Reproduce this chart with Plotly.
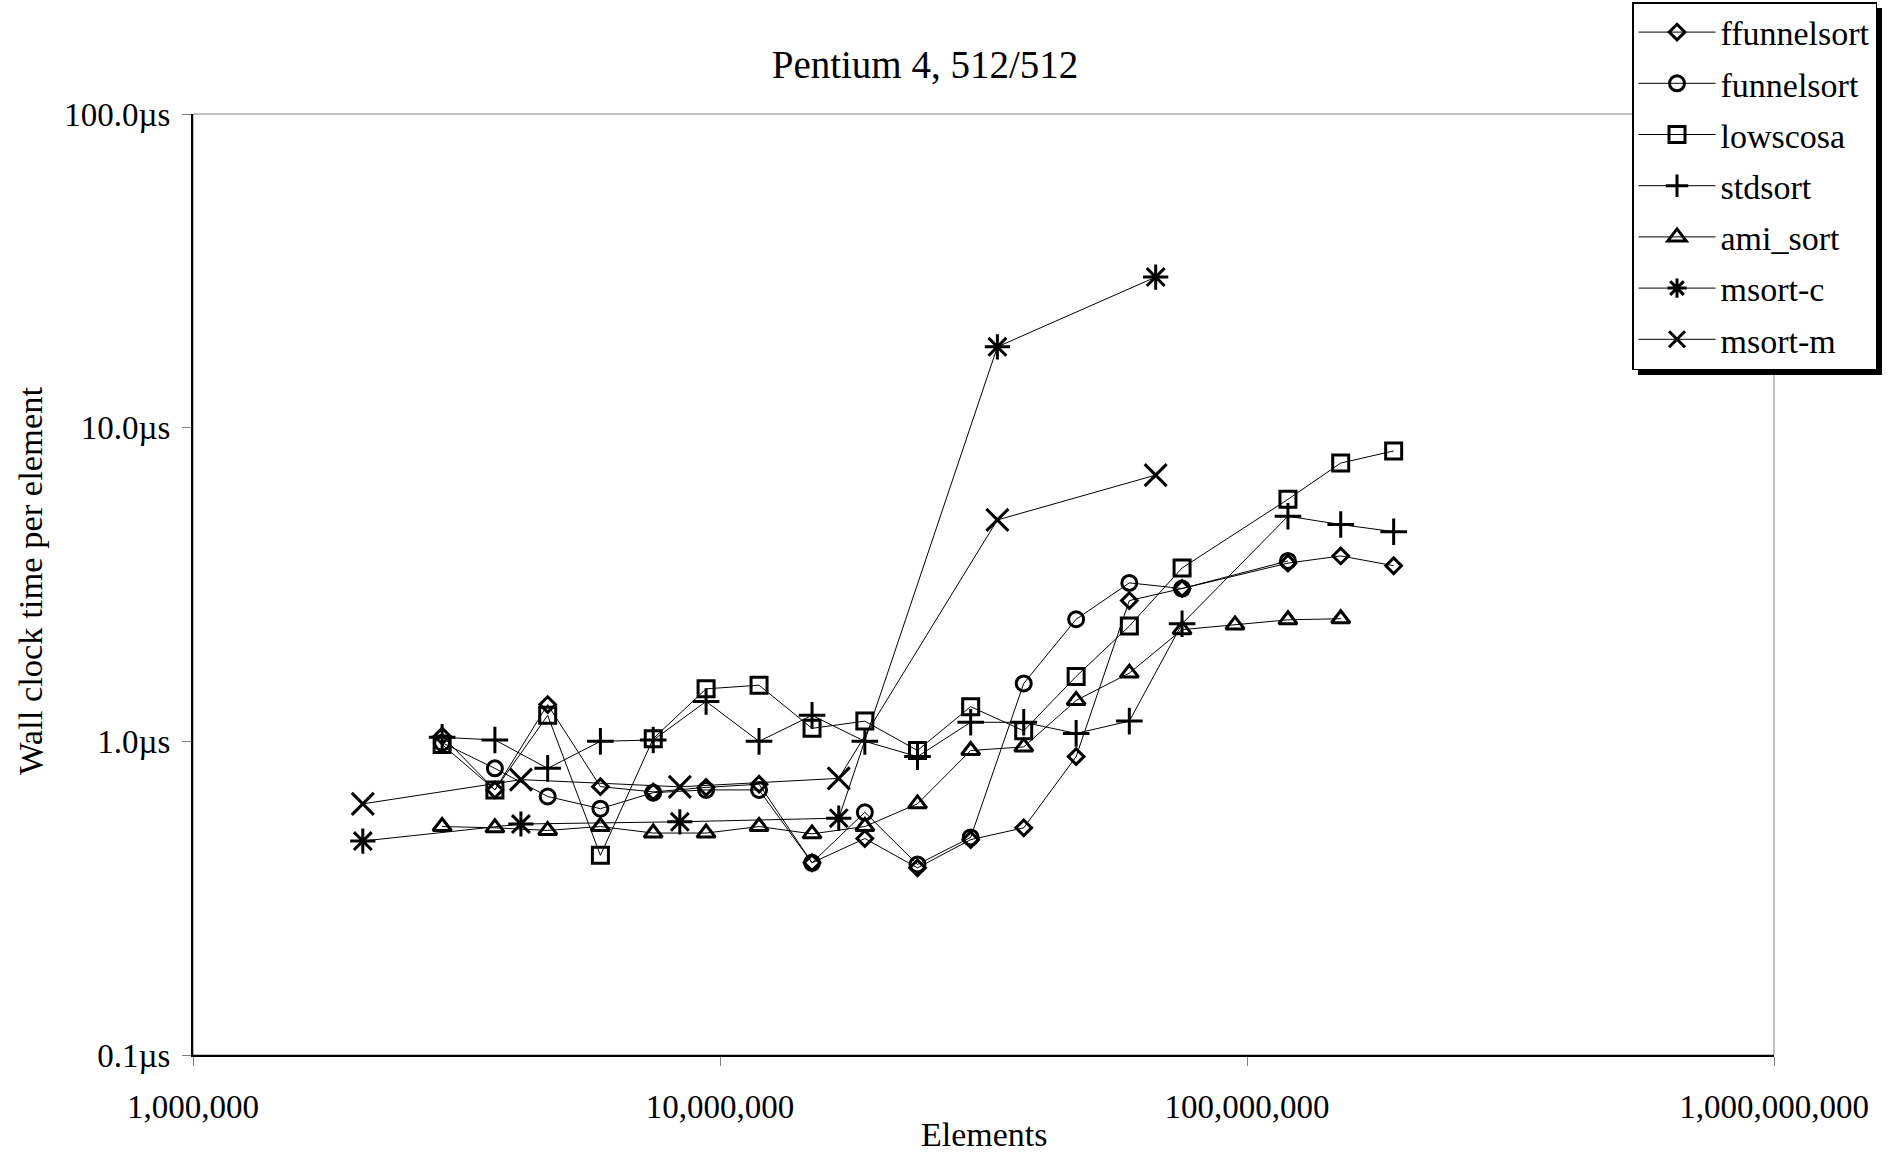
import plotly.graph_objects as go

# x positions (elements)
x_grid = [2.97e6, 3.74e6, 4.71e6, 5.93e6, 7.47e6, 9.41e6, 11.86e6, 14.95e6, 18.83e6,
          23.7e6, 29.9e6, 37.7e6, 47.4e6, 59.8e6, 75.3e6, 94.9e6, 119.6e6, 150.6e6, 189.8e6]
x_pow2 = [2.10e6, 4.19e6, 8.39e6, 16.8e6, 33.6e6, 67.1e6]

# values in microseconds per element
ffunnelsort_x = x_grid[:15] + x_grid[16:]
ffunnelsort_y = [1.04, 0.70, 1.31, 0.717, 0.69, 0.713, 0.73, 0.41, 0.49, 0.395, 0.486, 0.53, 0.894,
                 2.81, 3.07, 3.70, 3.90, 3.63]
funnelsort_x = x_grid[:15] + [x_grid[16]]
funnelsort_y = [0.99, 0.82, 0.667, 0.61, 0.686, 0.70, 0.70, 0.41, 0.594, 0.405, 0.494, 1.53, 2.45,
                3.20, 3.07, 3.76]
lowscosa_x = x_grid[:15] + x_grid[16:]
lowscosa_y = [0.977, 0.70, 1.21, 0.433, 1.02, 1.47, 1.51, 1.10, 1.16, 0.935, 1.29, 1.08, 1.61,
              2.33, 3.57, 5.91, 7.71, 8.43]
stdsort_x = x_grid[:15] + x_grid[16:]
stdsort_y = [1.03, 1.01, 0.82, 1.00, 1.01, 1.34, 1.00, 1.21, 1.00, 0.894, 1.15, 1.15, 1.06,
             1.16, 2.37, 5.22, 4.91, 4.66]
ami_sort_x = x_grid[:18]
ami_sort_y = [0.535, 0.53, 0.52, 0.535, 0.51, 0.51, 0.535, 0.507, 0.535, 0.632, 0.935, 0.96, 1.35,
              1.65, 2.27, 2.35, 2.44, 2.46]
msort_c_x = x_pow2
msort_c_y = [0.481, 0.545, 0.554, 0.569, 18.1, 30.2]
msort_m_x = x_pow2
msort_m_y = [0.632, 0.755, 0.716, 0.762, 5.08, 7.06]

series = [
    ("ffunnelsort", ffunnelsort_x, ffunnelsort_y, "diamond-open", 12),
    ("funnelsort", funnelsort_x, funnelsort_y, "circle-open", 15),
    ("lowscosa", lowscosa_x, lowscosa_y, "square-open", 16),
    ("stdsort", stdsort_x, stdsort_y, "cross-thin-open", 19),
    ("ami_sort", ami_sort_x, ami_sort_y, "triangle-up-open", 16),
    ("msort-c", msort_c_x, msort_c_y, "asterisk-open", 21),
    ("msort-m", msort_m_x, msort_m_y, "x-thin-open", 22),
]

x_tickvals = [1e6, 1e7, 1e8, 1e9]
x_ticktext = ["1,000,000", "10,000,000", "100,000,000", "1,000,000,000"]
y_tickvals = [0.1, 1, 10, 100]
y_ticktext = ["0.1µs", "1.0µs", "10.0µs", "100.0µs"]

FONT = "Liberation Serif, Times New Roman, serif"
W, H = 1895, 1152
L, R, T, B = 193, 121, 114, 97
PW, PH = W - L - R, H - T - B


def px(x):
    return (x - L) / PW


def py(y):
    return (H - B - y) / PH


fig = go.Figure()
for name, xs, ys, sym, sz in series:
    fig.add_trace(go.Scatter(
        x=xs, y=ys, name=name, mode="lines+markers", legendgroup=name,
        line=dict(color="black", width=1),
        marker=dict(symbol=sym, size=sz, color="black",
                    line=dict(color="black", width=3)),
    ))

fig.update_layout(
    width=W, height=H,
    margin=dict(l=L, r=R, t=T, b=B, autoexpand=False),
    paper_bgcolor="white", plot_bgcolor="white",
    font=dict(family=FONT, size=33, color="black"),
    title=dict(text="Pentium 4, 512/512", xref="container", x=925 / W, xanchor="center",
               yref="container", y=1 - 64 / H, yanchor="middle",
               font=dict(family=FONT, size=39, color="black")),
    showlegend=True,
    legend=dict(x=px(1632), xanchor="left", y=py(2), yanchor="top",
                bgcolor="white", bordercolor="black", borderwidth=1.5,
                font=dict(family=FONT, size=34, color="black"),
                tracegroupgap=4, itemwidth=77),
)

fig.update_xaxes(type="log", range=[6, 9], tickvals=x_tickvals, ticktext=x_ticktext,
                 showgrid=False, zeroline=False, showline=True, linecolor="black", linewidth=2,
                 ticks="outside", ticklen=9, tickcolor="gray", tickwidth=1,
                 ticklabelstandoff=12, automargin=False)
fig.update_yaxes(type="log", range=[-1, 2], tickvals=y_tickvals, ticktext=y_ticktext,
                 showgrid=False, zeroline=False, showline=True, linecolor="black", linewidth=2,
                 ticks="outside", ticklen=9, tickcolor="gray", tickwidth=1,
                 ticklabelstandoff=5, automargin=False)

# axis titles
fig.add_annotation(text="Elements", xref="paper", yref="paper", x=px(984), y=py(1134),
                   xanchor="center", yanchor="middle", showarrow=False,
                   font=dict(family=FONT, size=34, color="black"))
fig.add_annotation(text="Wall clock time per element", xref="paper", yref="paper",
                   x=px(30), y=py(581), textangle=-90, xanchor="center", yanchor="middle",
                   showarrow=False, font=dict(family=FONT, size=34.5, color="black"))

# thin border around the plot area (top/right)
fig.add_shape(type="rect", xref="paper", yref="paper", x0=0, y0=0, x1=1, y1=1,
              line=dict(color="#808080", width=1), layer="below")
# legend drop shadow
fig.add_shape(type="rect", xref="paper", yref="paper",
              x0=px(1638), x1=px(1882), y0=py(375), y1=py(8),
              line=dict(width=0), fillcolor="black", layer="above")

fig.write_html("out.html", config={"displayModeBar": False},
               post_script="document.body.style.margin='0px';")
